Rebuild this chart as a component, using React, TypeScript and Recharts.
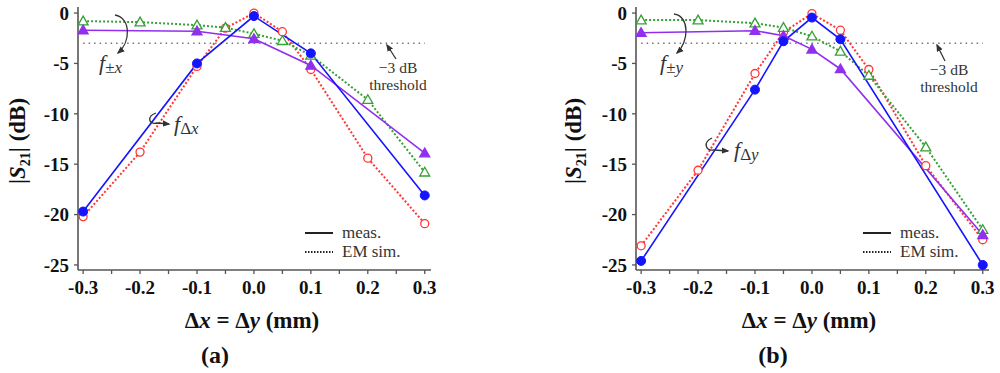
import { Line, LineChart, ReferenceLine, XAxis, YAxis } from 'recharts';

// x positions (mm)
const xSim = [-0.3, -0.2, -0.1, -0.05, 0, 0.05, 0.1, 0.2, 0.3];
const xMeasA = [-0.3, -0.1, 0, 0.1, 0.3];
const xMeasB = [-0.3, -0.1, -0.05, 0, 0.05, 0.3];

// panel (a): |S21| in dB
const measDeltaA = [-19.7, -5.0, -0.3, -4.0, -18.1];
const simDeltaA = [-20.2, -13.8, -5.3, -1.5, 0.0, -1.85, -5.6, -14.4, -20.9];
const measPmA = [-1.7, -1.8, -2.55, -5.2, -13.9];
const simPmA = [-0.8, -0.9, -1.2, -1.45, -2.05, -2.75, -4.2, -8.6, -15.8];

// panel (b)
const measDeltaB = [-24.6, -7.6, -2.8, -0.45, -2.6, -25.0];
const simDeltaB = [-23.1, -15.6, -6.0, -1.9, -0.05, -1.7, -5.6, -15.15, -22.5];
const measPmB = [-1.95, -1.75, -2.25, -3.6, -5.55, -22.0];
const simPmB = [-0.7, -0.7, -1.0, -1.45, -2.3, -3.8, -6.2, -13.3, -21.5];

const xTicks = [-0.3, -0.25, -0.2, -0.15, -0.1, -0.05, 0, 0.05, 0.1, 0.15, 0.2, 0.25, 0.3];
const yTicks = [0, -5, -10, -15, -20, -25];

const SERIF = '"Liberation Serif", "Times New Roman", serif';
const BLUE = '#1414ff';
const RED = '#ff3535';
const GREEN = '#35a035';
const PURPLE = '#9030ee';
const AXIS = '#555';

const boldText = { fill: '#111', fontWeight: 700, fontFamily: SERIF };

const toPoints = (xs: number[], ys: number[]) => xs.map((x, i) => ({ x, y: ys[i] }));

const fmtX = (v: number) => (Math.round(v * 100) % 10 === 0 ? v.toFixed(1) : '');

const XTick = (props: any) => {
  const { x, y, payload } = props;
  return (
    <text x={x} y={y} dy="0.71em" textAnchor="middle" fontSize={19} {...boldText}>
      {fmtX(payload.value)}
    </text>
  );
};

const YTick = (props: any) => {
  const { x, y, payload } = props;
  return (
    <text x={x} y={y} dy="0.355em" textAnchor="end" fontSize={19} {...boldText}>
      {String(payload.value)}
    </text>
  );
};

const triangle = (fill: string, stroke: string) => (props: any) => {
  const { cx, cy, index } = props;
  if (cx == null || cy == null) return <g key={index} />;
  const r = 5;
  return (
    <polygon
      key={index}
      points={`${cx},${cy - r} ${cx - r},${cy + r * 0.75} ${cx + r},${cy + r * 0.75}`}
      fill={fill}
      stroke={stroke}
      strokeWidth={1.3}
    />
  );
};

interface PanelProps {
  left: number;
  yAxisWidth: number;
  marginRight: number;
  letter: string;
  v: string;
  measDelta: { x: number; y: number }[];
  simDelta: { x: number; y: number }[];
  measPm: { x: number; y: number }[];
  simPm: { x: number; y: number }[];
  notes: {
    pm: [number, number];
    pmArrow: string;
    delta: [number, number];
    deltaArrow: string;
    thr: [number, number];
    thrArrow: string;
    legendX: number;
    yTitleX: number;
    xTitleX: number;
    letterX: number;
  };
}

function Panel({ left, yAxisWidth, marginRight, letter, v, measDelta, simDelta, measPm, simPm, notes }: PanelProps) {
  const mid = `arrow-${letter}`;
  return (
    <div style={{ position: 'absolute', left, top: 0, width: 500, height: 373 }}>
      <LineChart width={500} height={373} margin={{ top: 7, right: marginRight, bottom: 0, left: 0 }}>
        <XAxis
          dataKey="x"
          type="number"
          domain={[-0.309, 0.311]}
          allowDataOverflow
          ticks={xTicks}
          interval={0}
          height={103}
          tickSize={4}
          tickMargin={7}
          tick={<XTick />}
          tickLine={{ stroke: AXIS, strokeWidth: 1.3 }}
          axisLine={{ stroke: AXIS, strokeWidth: 1.6 }}
        />
        <XAxis
          xAxisId="top"
          orientation="top"
          type="number"
          domain={[-0.309, 0.311]}
          allowDataOverflow
          height={0}
          tick={false}
          tickLine={false}
          axisLine={{ stroke: AXIS, strokeWidth: 1.6 }}
        />
        <YAxis
          type="number"
          domain={[-25.5, 0.6]}
          allowDataOverflow
          ticks={yTicks}
          interval={0}
          width={yAxisWidth}
          tickSize={4}
          tickMargin={5}
          tick={<YTick />}
          tickLine={{ stroke: AXIS, strokeWidth: 1.3 }}
          axisLine={{ stroke: AXIS, strokeWidth: 1.6 }}
        />
        <YAxis
          yAxisId="right"
          orientation="right"
          type="number"
          domain={[-25.5, 0.6]}
          allowDataOverflow
          width={0}
          tick={false}
          tickLine={false}
          axisLine={{ stroke: AXIS, strokeWidth: 1.6 }}
        />
        <ReferenceLine
          segment={[
            { x: -0.3, y: -3 },
            { x: 0.3, y: -3 },
          ]}
          stroke="#777"
          strokeWidth={1.5}
          strokeDasharray="1.5 4"
        />
        <Line
          data={simDelta}
          dataKey="y"
          stroke={RED}
          strokeWidth={2}
          strokeDasharray="2 2"
          dot={{ r: 4, stroke: RED, strokeWidth: 1.3, fill: '#fff', strokeDasharray: '' }}
          isAnimationActive={false}
        />
        <Line
          data={simPm}
          dataKey="y"
          stroke={GREEN}
          strokeWidth={2}
          strokeDasharray="2 2"
          dot={triangle('#fff', GREEN)}
          isAnimationActive={false}
        />
        <Line
          data={measPm}
          dataKey="y"
          stroke={PURPLE}
          strokeWidth={1.6}
          dot={triangle(PURPLE, PURPLE)}
          isAnimationActive={false}
        />
        <Line
          data={measDelta}
          dataKey="y"
          stroke={BLUE}
          strokeWidth={1.6}
          dot={{ r: 4.5, stroke: BLUE, strokeWidth: 1, fill: BLUE }}
          isAnimationActive={false}
        />
      </LineChart>

      <svg
        width={500}
        height={373}
        style={{ position: 'absolute', left: 0, top: 0, pointerEvents: 'none' }}
        fontFamily={SERIF}
      >
        <defs>
          <marker id={mid} viewBox="0 0 10 10" refX="8" refY="5" markerWidth="6" markerHeight="6" orient="auto">
            <path d="M0,1 L10,5 L0,9 z" fill="#333" />
          </marker>
        </defs>
        {/* annotations */}
        <path d={notes.pmArrow} fill="none" stroke="#333" strokeWidth={1.3} markerEnd={`url(#${mid})`} />
        <text x={notes.pm[0]} y={notes.pm[1]} fill="#333" fontSize={22}>
          <tspan fontStyle="italic">f</tspan>
          <tspan fontSize={17} dy={3}>±</tspan>
          <tspan fontSize={17} fontStyle="italic">{v}</tspan>
        </text>
        <path d={notes.deltaArrow} fill="none" stroke="#333" strokeWidth={1.3} markerEnd={`url(#${mid})`} />
        <text x={notes.delta[0]} y={notes.delta[1]} fill="#333" fontSize={22}>
          <tspan fontStyle="italic">f</tspan>
          <tspan fontSize={17} dy={3}>Δ</tspan>
          <tspan fontSize={17} fontStyle="italic">{v}</tspan>
        </text>
        <path d={notes.thrArrow} fill="none" stroke="#333" strokeWidth={1.3} markerEnd={`url(#${mid})`} />
        <text x={notes.thr[0]} y={notes.thr[1]} fill="#333" fontSize={15.5} textAnchor="middle">
          −3 dB
        </text>
        <text x={notes.thr[0]} y={notes.thr[1] + 17} fill="#333" fontSize={15.5} textAnchor="middle">
          threshold
        </text>

        {/* key */}
        <line x1={notes.legendX} x2={notes.legendX + 28} y1={233} y2={233} stroke="#222" strokeWidth={2} />
        <text x={notes.legendX + 37} y={238} fill="#333" fontSize={17}>
          meas.
        </text>
        <line
          x1={notes.legendX}
          x2={notes.legendX + 28}
          y1={252}
          y2={252}
          stroke="#222"
          strokeWidth={2}
          strokeDasharray="1.5 1.5"
        />
        <text x={notes.legendX + 37} y={257} fill="#333" fontSize={17}>
          EM sim.
        </text>

        {/* axis titles */}
        <text
          transform={`translate(${notes.yTitleX},141) rotate(-90)`}
          textAnchor="middle"
          fontSize={23}
          {...boldText}
        >
          |<tspan fontStyle="italic">S</tspan>
          <tspan fontSize={14} dy={5}>21</tspan>
          <tspan dy={-5}>| (dB)</tspan>
        </text>
        <text x={notes.xTitleX} y={328} textAnchor="middle" fontSize={23} {...boldText}>
          Δ<tspan fontStyle="italic">x</tspan> = Δ<tspan fontStyle="italic">y</tspan> (mm)
        </text>
        <text x={notes.letterX} y={363} textAnchor="middle" fontSize={24} {...boldText}>
          ({letter})
        </text>
      </svg>
    </div>
  );
}

export default function App() {
  return (
    <div style={{ position: 'absolute', left: 0, top: 0, width: 1000, height: 373, background: '#fff' }}>
      <Panel
        left={0}
        yAxisWidth={78}
        marginRight={69}
        letter="a"
        v="x"
        measDelta={toPoints(xMeasA, measDeltaA)}
        simDelta={toPoints(xSim, simDeltaA)}
        measPm={toPoints(xMeasA, measPmA)}
        simPm={toPoints(xSim, simPmA)}
        notes={{
          pm: [99, 70],
          pmArrow: 'M115,15 C131,18 131,42 118,53',
          delta: [174, 131],
          deltaArrow: 'M156,113 C147,116 148,125 157,123 L169,124',
          thr: [398, 73],
          thrArrow: 'M396,59 L387,45',
          legendX: 305,
          yTitleX: 25,
          xTitleX: 252,
          letterX: 215,
        }}
      />
      <Panel
        left={500}
        yAxisWidth={136}
        marginRight={11}
        letter="b"
        v="y"
        measDelta={toPoints(xMeasB, measDeltaB)}
        simDelta={toPoints(xSim, simDeltaB)}
        measPm={toPoints(xMeasB, measPmB)}
        simPm={toPoints(xSim, simPmB)}
        notes={{
          pm: [160, 70],
          pmArrow: 'M174,14 C190,16 189,42 177,53',
          delta: [234, 157],
          deltaArrow: 'M212,138 C203,142 205,151 214,150 L228,151',
          thr: [449, 75],
          thrArrow: 'M445,61 L437,45',
          legendX: 363,
          yTitleX: 81,
          xTitleX: 309,
          letterX: 273,
        }}
      />
    </div>
  );
}
